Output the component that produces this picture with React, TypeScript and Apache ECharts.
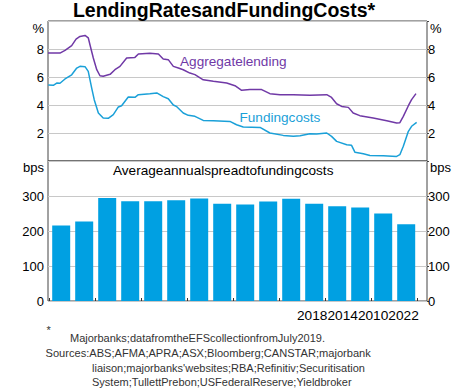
import React, { useEffect, useRef } from "react";
import * as echarts from "echarts";

const FONT = "'Liberation Sans', Arial, sans-serif";
const PURPLE = "#7039A6";
const CYAN = "#1AA0D8";
const BAR = "#00A0E2";

// Monthly-ish readings: [decimal year, per cent]
const lendingSeries: [number, number][] = [
  [2006.93, 7.71], [2007.45, 7.71], [2007.67, 7.9], [2007.96, 8.24], [2008.15, 8.71],
  [2008.32, 8.9], [2008.54, 8.97], [2008.68, 8.8], [2008.79, 8.07], [2008.9, 7.36],
  [2009.05, 6.52], [2009.19, 6.09], [2009.33, 6.05], [2009.63, 6.19], [2009.84, 6.52],
  [2010.06, 6.76], [2010.35, 7.36], [2010.71, 7.4], [2010.86, 7.64], [2011.36, 7.69],
  [2011.73, 7.64], [2011.94, 7.29], [2012.16, 7.24], [2012.38, 6.76], [2012.6, 6.64],
  [2012.81, 6.52], [2013.1, 6.28], [2013.32, 6.17], [2013.68, 5.8], [2014.12, 5.69],
  [2014.7, 5.57], [2015.06, 5.38], [2015.35, 5.05], [2015.71, 5.1], [2016.22, 5.1],
  [2016.58, 4.81], [2017.02, 4.74], [2017.6, 4.74], [2018.32, 4.7], [2019.05, 4.74],
  [2019.26, 4.54], [2019.48, 4.09], [2019.7, 3.9], [2019.99, 3.83], [2020.2, 3.43],
  [2020.49, 3.24], [2021.07, 3.07], [2021.66, 2.88], [2022.09, 2.71], [2022.23, 2.74],
  [2022.38, 3.19], [2022.6, 3.95], [2022.74, 4.38], [2022.93, 4.81],
];

const fundingSeries: [number, number][] = [
  [2006.94, 5.43], [2007.16, 5.41], [2007.31, 5.57], [2007.45, 5.55], [2007.67, 5.86],
  [2007.96, 6.16], [2008.18, 6.64], [2008.32, 6.76], [2008.54, 6.74], [2008.68, 6.4],
  [2008.83, 5.21], [2008.94, 4.38], [2009.12, 3.43], [2009.33, 3.07], [2009.55, 3.05],
  [2009.77, 3.31], [2009.99, 3.86], [2010.13, 3.95], [2010.42, 4.57], [2010.71, 4.55],
  [2010.86, 4.74], [2011.36, 4.81], [2011.66, 4.86], [2011.94, 4.6], [2012.16, 4.45],
  [2012.38, 4.0], [2012.53, 3.88], [2012.81, 3.43], [2013.03, 3.26], [2013.32, 3.19],
  [2013.68, 2.9], [2014.12, 2.88], [2014.84, 2.83], [2015.13, 2.59], [2015.42, 2.43],
  [2016.15, 2.4], [2016.58, 2.0], [2017.16, 1.83], [2017.6, 1.76], [2017.89, 1.81],
  [2018.32, 1.95], [2018.61, 1.93], [2019.05, 2.0], [2019.26, 1.76], [2019.48, 1.4],
  [2019.92, 1.16], [2020.13, 1.12], [2020.28, 0.62], [2020.64, 0.52], [2020.93, 0.4],
  [2021.51, 0.38], [2022.09, 0.33], [2022.23, 0.45], [2022.38, 1.05], [2022.6, 2.12],
  [2022.74, 2.48], [2022.96, 2.76],
];

const spreadYears = [
  "2007", "2008", "2009", "2010", "2011", "2012", "2013", "2014",
  "2015", "2016", "2017", "2018", "2019", "2020", "2021", "2022",
];
const spreadValues = [216, 227, 294, 285, 285, 288, 293, 278, 276, 284, 292, 278, 271, 267, 250, 219];

const pctTicks = [2, 4, 6, 8];
const bpsTicks = [0, 100, 200, 300];
const xAxisLabelText = "2018201420102022";
const footnotes = [
  "Majorbanks;datafromtheEFScollectionfromJuly2019.",
  "Sources:ABS;AFMA;APRA;ASX;Bloomberg;CANSTAR;majorbank",
  "liaison;majorbanks'websites;RBA;Refinitiv;Securitisation",
  "System;TullettPrebon;USFederalReserve;Yieldbroker",
];

const X_MIN = 2006.93;
const X_MAX = 2023.41;

export default function App() {
  const ref = useRef<HTMLDivElement>(null);
  useEffect(() => {
    document.body.style.margin = "0";
    const chart = echarts.init(ref.current!, null, { renderer: "svg" });
    const labelStyle = { color: "#000", fontSize: 13, fontFamily: FONT };
    const txt = (text: string, x: number, y: number, opts: any = {}) => ({
      type: "text",
      x,
      y,
      silent: true,
      style: {
        text,
        fill: opts.fill || "#000",
        font: opts.font || `13px ${FONT}`,
        align: opts.align || "left",
        verticalAlign: "middle",
      },
    });
    const rightTick = { show: true, length: 2, lineStyle: { color: "#444" } };
    chart.setOption({
      animation: false,
      backgroundColor: "#fff",
      grid: [
        { left: 48, width: 379, top: 21, height: 140, show: true, borderColor: "#444", borderWidth: 1, backgroundColor: "transparent" },
        { left: 48, width: 379, top: 161, height: 140, show: true, borderColor: "#444", borderWidth: 1, backgroundColor: "transparent" },
        { left: 49.7, width: 368, top: 161, height: 140, show: false },
      ],
      xAxis: [
        { gridIndex: 0, type: "value", min: X_MIN, max: X_MAX, show: false },
        { gridIndex: 1, type: "value", min: X_MIN, max: X_MAX, show: false },
        {
          gridIndex: 2,
          type: "category",
          data: spreadYears,
          boundaryGap: true,
          axisLine: { show: false },
          axisTick: { show: true, inside: true, length: 3, lineStyle: { color: "#333" } },
          axisLabel: { show: false },
        },
      ],
      yAxis: [
        {
          gridIndex: 0, type: "value", position: "left", min: 0, max: 10, interval: 2,
          axisLine: { show: false }, axisTick: { show: false },
          axisLabel: { ...labelStyle, margin: 4, formatter: (v: number) => (pctTicks.includes(v) ? String(v) : "") },
          splitLine: { show: true, lineStyle: { color: "#c8c8c8", width: 1 } },
        },
        {
          gridIndex: 0, type: "value", position: "right", min: 0, max: 10, interval: 2,
          axisLine: { show: false }, axisTick: rightTick,
          axisLabel: { ...labelStyle, margin: 1, formatter: (v: number) => (pctTicks.includes(v) ? String(v) : "") },
          splitLine: { show: false },
        },
        {
          gridIndex: 1, type: "value", position: "left", min: 0, max: 400, interval: 100,
          axisLine: { show: false }, axisTick: { show: false },
          axisLabel: { ...labelStyle, margin: 4, formatter: (v: number) => (bpsTicks.includes(v) ? String(v) : "") },
          splitLine: { show: true, lineStyle: { color: "#c8c8c8", width: 1 } },
        },
        {
          gridIndex: 1, type: "value", position: "right", min: 0, max: 400, interval: 100,
          axisLine: { show: false }, axisTick: rightTick,
          axisLabel: { ...labelStyle, margin: 1, formatter: (v: number) => (bpsTicks.includes(v) ? String(v) : "") },
          splitLine: { show: false },
        },
        { gridIndex: 2, type: "value", min: 0, max: 400, show: false },
      ],
      series: [
        {
          name: "Aggregatelending", type: "line", xAxisIndex: 0, yAxisIndex: 0,
          data: lendingSeries, showSymbol: false, lineStyle: { color: PURPLE, width: 1.5 },
        },
        {
          name: "Fundingcosts", type: "line", xAxisIndex: 0, yAxisIndex: 0,
          data: fundingSeries, showSymbol: false, lineStyle: { color: CYAN, width: 1.5 },
        },
        {
          name: "Spread", type: "bar", xAxisIndex: 2, yAxisIndex: 4,
          data: spreadValues, barWidth: 18, itemStyle: { color: BAR },
        },
      ],
      graphic: [
        txt("LendingRatesandFundingCosts*", 224, 10, { font: `bold 19.5px ${FONT}`, align: "center" }),
        txt("%", 44, 28, { align: "right" }),
        txt("%", 430, 28),
        txt("bps", 44, 167, { align: "right" }),
        txt("bps", 430, 167),
        txt("Aggregatelending", 180, 61, { fill: PURPLE, font: `13.6px ${FONT}` }),
        txt("Fundingcosts", 239.5, 117.5, { fill: CYAN, font: `13.6px ${FONT}` }),
        txt("Averageannualspreadtofundingcosts", 113, 170, { font: `13.6px ${FONT}` }),
        txt(xAxisLabelText, 297, 315, { font: `13.7px ${FONT}` }),
        txt("*", 46.5, 330, { font: `11px ${FONT}`, fill: "#333" }),
        txt(footnotes[0], 70, 338, { font: `11px ${FONT}`, fill: "#333" }),
        txt(footnotes[1], 45.5, 353, { font: `11.1px ${FONT}`, fill: "#333" }),
        txt(footnotes[2], 92, 368, { font: `11px ${FONT}`, fill: "#333" }),
        txt(footnotes[3], 92, 382, { font: `11px ${FONT}`, fill: "#333" }),
      ],
    });
    return () => chart.dispose();
  }, []);
  return <div ref={ref} style={{ width: 474, height: 391 }} />;
}
